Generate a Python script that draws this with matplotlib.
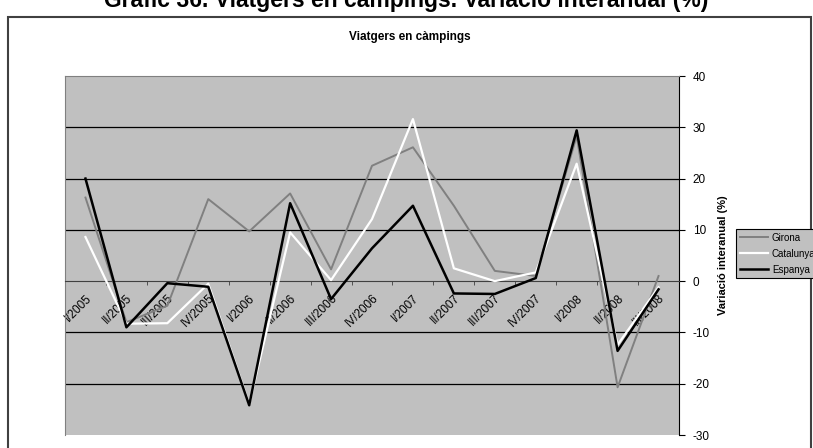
import matplotlib
matplotlib.use('Agg')
import matplotlib.pyplot as plt
import numpy as np
from matplotlib.patches import Rectangle

plt.rcParams['font.family'] = ['Liberation Sans', 'DejaVu Sans']
plt.rcParams['axes.unicode_minus'] = False

quarters = ['I/2005', 'II/2005', 'III/2005', 'IV/2005', 'I/2006', 'II/2006', 'III/2006',
            'IV/2006', 'I/2007', 'II/2007', 'III/2007', 'IV/2007', 'I/2008', 'II/2008', 'III/2008']
girona = [16.3, -8.0, -4.8, 16.0, 9.7, 17.1, 2.3, 22.5, 26.1, 14.7, 2.0, 1.0, 28.3, -20.7, 1.0]
catalunya = [8.6, -8.3, -8.2, -0.5, -24.0, 9.5, 0.2, 12.1, 31.6, 2.5, 0.0, 1.7, 22.9, -12.4, -1.2]
espanya = [20.0, -9.0, -0.4, -1.1, -24.2, 15.2, -3.5, 6.4, 14.7, -2.4, -2.5, 0.6, 29.4, -13.6, -1.6]
yticks = [-30, -20, -10, 0, 10, 20, 30, 40]

W, H = 813, 448
fig = plt.figure(figsize=(W / 100, H / 100), dpi=100)

# outer chart frame
fig.patches.append(Rectangle((8 / W, -0.01), 803 / W, 1 - 17 / H + 0.01, transform=fig.transFigure,
                             fill=False, edgecolor='#404040', linewidth=1.5))

fig.text(0.5, 1 - 7 / H, 'Gràfic 36. Viatgers en càmpings. Variació interanual (%)',
         ha='center', va='baseline', fontsize=16.5, fontweight='bold')
fig.text(410 / W, 1 - 37 / H, 'Viatgers en càmpings', ha='center', va='center',
         fontsize=8.5, fontweight='bold')

ax = fig.add_axes([65 / W, 13 / H, 614 / W, 359 / H])
ax.set_facecolor('#c0c0c0')

x = np.arange(len(quarters))
for yv in yticks[1:-1]:
    if yv != 0:
        ax.axhline(yv, color='black', linewidth=0.9, zorder=1)

ax.plot(x, girona, color='#808080', linewidth=1.4, label='Girona', zorder=3)
ax.plot(x, catalunya, color='white', linewidth=1.6, label='Catalunya', zorder=4)
ax.plot(x, espanya, color='black', linewidth=1.8, label='Espanya', zorder=5)

ax.set_xlim(-0.5, len(quarters) - 0.5)
ax.set_ylim(-30, 40)

for s in ['top', 'left']:
    ax.spines[s].set_color('#808080')
ax.spines['right'].set_color('black')
ax.spines['bottom'].set_position(('data', 0))
ax.spines['bottom'].set_color('#404040')

ax.yaxis.tick_right()
ax.yaxis.set_label_position('right')
ax.set_yticks(yticks)
ax.tick_params(axis='y', direction='out', length=4, labelsize=8.5, pad=6)
ax.set_ylabel('Variació interanual (%)', fontsize=8, fontweight='bold', labelpad=6)

ax.set_xticks(x)
ax.set_xticklabels(quarters, rotation=45, ha='right', rotation_mode='anchor', fontsize=8.5)
ax.set_xticks(np.arange(0.5, len(quarters) - 0.5), minor=True)
ax.tick_params(axis='x', which='major', length=0, pad=8)
ax.tick_params(axis='x', which='minor', direction='out', length=3, color='#404040')
for lbl in ax.get_xticklabels():
    lbl.set_zorder(6)

leg = fig.legend(loc='upper left', bbox_to_anchor=(736 / W, 1 - 229 / H), fontsize=7,
                 frameon=True, fancybox=False, facecolor='#c0c0c0', edgecolor='black',
                 framealpha=1, handlelength=2.9, labelspacing=0.6, borderaxespad=0,
                 borderpad=0.4, handletextpad=0.4)
leg.get_frame().set_linewidth(0.8)

fig.savefig('out.png', dpi=100)
